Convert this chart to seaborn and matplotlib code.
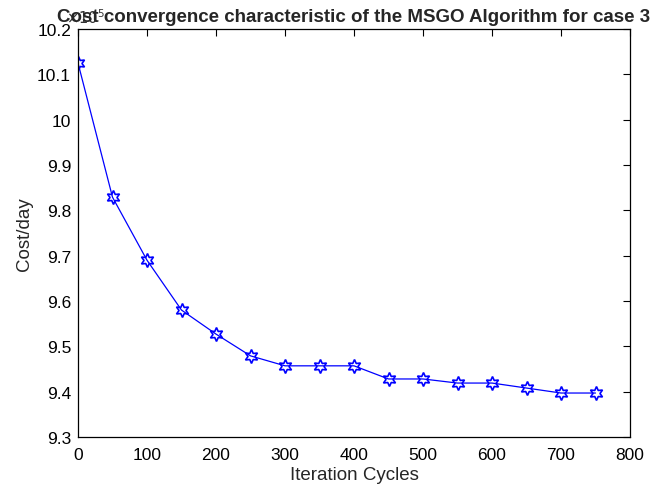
import numpy as np
import pandas as pd
import matplotlib
matplotlib.use('Agg')
import matplotlib.pyplot as plt
import seaborn as sns
from matplotlib.ticker import FuncFormatter

# iteration cycles and cost/day (in units of 1e5)
iterations = [0, 50, 100, 150, 200, 250, 300, 350, 400, 450, 500, 550, 600, 650, 700, 750]
cost_e5 = [10.125, 9.829, 9.690, 9.580, 9.527, 9.479, 9.457, 9.457, 9.457,
           9.428, 9.428, 9.419, 9.419, 9.408, 9.397, 9.397]

x_ticks = [0, 100, 200, 300, 400, 500, 600, 700, 800]
y_ticks_e5 = [9.3, 9.4, 9.5, 9.6, 9.7, 9.8, 9.9, 10.0, 10.1, 10.2]

df = pd.DataFrame({'iter': iterations, 'cost': np.array(cost_e5) * 1e5})

sns.set_theme(style='white')
plt.rcParams['font.family'] = ['Liberation Sans', 'DejaVu Sans']

fig = plt.figure(figsize=(6.69, 4.89), dpi=100)
ax = fig.add_axes([78/669, 51/489, 552/669, 408/489])

sns.lineplot(data=df, x='iter', y='cost', ax=ax, color='blue', linewidth=0.9,
             marker=(6, 1, 0), markersize=10, markerfacecolor='none',
             markeredgecolor='blue', markeredgewidth=1.2)

ax.set_xlim(0, 800)
ax.set_ylim(9.3e5, 10.2e5)
ax.set_xticks(x_ticks)
ax.set_yticks([v * 1e5 for v in y_ticks_e5])
ax.yaxis.set_major_formatter(FuncFormatter(lambda v, p: '%g' % round(v / 1e5, 2)))

ax.tick_params(direction='in', length=5, width=0.8, top=True, right=True,
               labelsize=12.5, colors='black', pad=5)
ax.tick_params(axis='x', pad=7)
for s in ax.spines.values():
    s.set_color('black')
    s.set_linewidth(0.9)

ax.set_xlabel('Iteration Cycles', fontsize=13.5, labelpad=3)
ax.set_ylabel('Cost/day', fontsize=13.5, labelpad=3)
ax.set_title('Cost convergence characteristic of the MSGO Algorithm for case 3',
             fontsize=13.5, fontweight='bold', pad=6)
# multiplier drawn like MATLAB, tucked under the title
ax.text(-0.022, 1.008, r'$\times10^5$', transform=ax.transAxes, fontsize=10.5,
        color='#333333', ha='left', va='bottom', zorder=0)

fig.savefig('out.png', dpi=100)
